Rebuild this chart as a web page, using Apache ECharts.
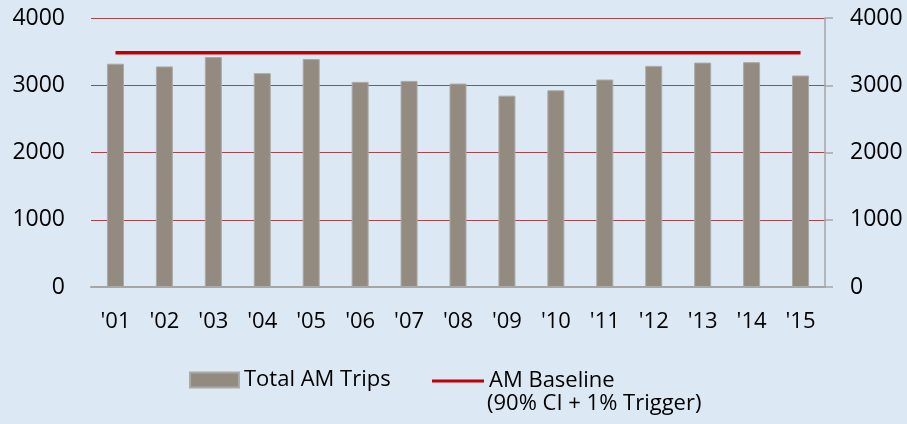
<!DOCTYPE html>
<html>
<head>
<meta charset="utf-8">
<script src="https://cdn.jsdelivr.net/npm/echarts@6/dist/echarts.min.js"></script>
<style>
html,body{margin:0;padding:0;background:#dce8f4;}
#c{width:907px;height:424px;}
</style>
</head>
<body>
<div id="c"></div>
<script>
var categories = ["'01","'02","'03","'04","'05","'06","'07","'08","'09","'10","'11","'12","'13","'14","'15"];
var totalAmTrips = [3320, 3280, 3420, 3180, 3390, 3050, 3065, 3025, 2845, 2925, 3085, 3288, 3337, 3343, 3145];
var amBaseline = [3485, 3485, 3485, 3485, 3485, 3485, 3485, 3485, 3485, 3485, 3485, 3485, 3485, 3485, 3485];
var yTicks = [0, 1000, 2000, 3000, 4000];

var FONT = 'Open Sans';
var chart = echarts.init(document.getElementById('c'));
function plain(v) { return String(v); }
chart.setOption({
  backgroundColor: '#dce8f4',
  animation: false,
  textStyle: { fontFamily: FONT },
  grid: { left: 91, right: 82, top: 18, bottom: 137, containLabel: false },
  legend: [
    { left: 189, top: 369, padding: 0, itemWidth: 49, itemHeight: 15, itemGap: 5, icon: 'rect',
      data: ['Total AM Trips'], textStyle: { fontFamily: FONT, fontSize: 22, color: '#000' } },
    { left: 432, top: 370, padding: 0, itemWidth: 52, itemHeight: 3, itemGap: 5, icon: 'rect',
      data: ['AM Baseline'], textStyle: { fontFamily: FONT, fontSize: 22, color: '#000' } }
  ],
  graphic: [
    { type: 'text', left: 487, top: 393, style: { text: '(90% CI + 1% Trigger)', font: '22px "Open Sans"', fill: '#000' } }
  ],
  xAxis: {
    type: 'category',
    data: categories,
    axisLine: { show: true, lineStyle: { color: '#a6a6a6', width: 2 } },
    axisTick: { show: false },
    axisLabel: { fontSize: 22, color: '#000', margin: 24, fontFamily: FONT }
  },
  yAxis: [
    { type: 'value', min: yTicks[0], max: yTicks[yTicks.length - 1], interval: 1000, position: 'left',
      axisLine: { show: false }, axisTick: { show: false },
      axisLabel: { fontSize: 23, color: '#000', margin: 26, fontFamily: FONT, formatter: plain },
      splitLine: { show: true, lineStyle: { color: '#a8464e', width: 1 } } },
    { type: 'value', min: yTicks[0], max: yTicks[yTicks.length - 1], interval: 1000, position: 'right',
      axisLine: { show: true, lineStyle: { color: '#a6a6a6', width: 1.5 } },
      axisTick: { show: true, inside: false, length: 8, lineStyle: { color: '#a6a6a6', width: 1.5 } },
      axisLabel: { fontSize: 23, color: '#000', margin: 25, fontFamily: FONT, formatter: plain },
      splitLine: { show: false } }
  ],
  series: [
    { name: 'Total AM Trips', type: 'bar', data: totalAmTrips, barWidth: 17,
      itemStyle: { color: '#948b80', borderColor: '#aaa9a6', borderWidth: 1 } },
    { name: 'AM Baseline', type: 'line', data: amBaseline, symbol: 'none',
      lineStyle: { color: '#c00000', width: 3.5 }, itemStyle: { color: '#c00000' } }
  ]
});
</script>
</body>
</html>
